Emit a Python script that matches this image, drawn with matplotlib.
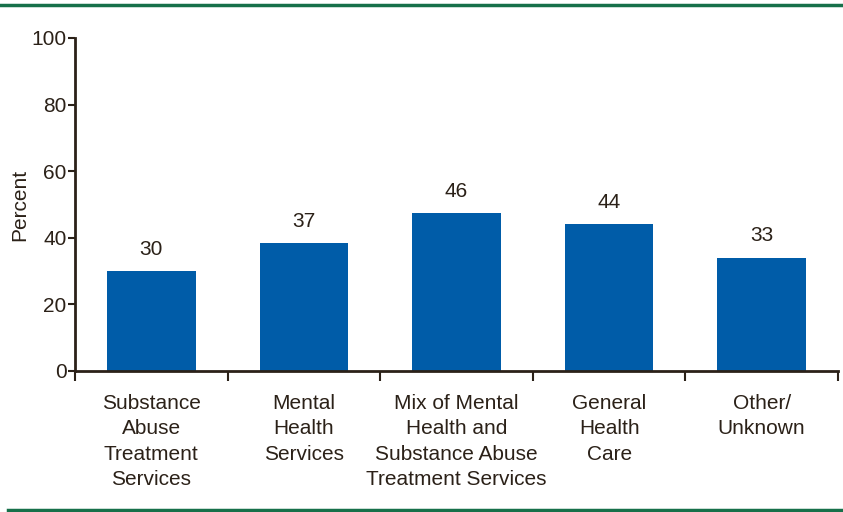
import matplotlib.pyplot as plt
import numpy as np

categories = ["Substance\nAbuse\nTreatment\nServices",
              "Mental\nHealth\nServices",
              "Mix of Mental\nHealth and\nSubstance Abuse\nTreatment Services",
              "General\nHealth\nCare",
              "Other/\nUnknown"]
# bar heights as drawn, and the printed labels
heights = [30, 38.4, 47.4, 44, 34]
labels = ["30", "37", "46", "44", "33"]

plt.rcParams['font.family'] = ['Liberation Sans', 'DejaVu Sans']
dark = '#2b2118'
blue = '#005ca8'
green = '#17704a'

fig = plt.figure(figsize=(8.43, 5.12), dpi=100)
ax = fig.add_axes([0.089, 0.2754, 0.905, 0.6504])

x = np.arange(len(categories))
ax.bar(x, heights, width=0.58, color=blue, zorder=2)
for xi, h, lab in zip(x, heights, labels):
    ax.annotate(lab, (xi, h), xytext=(0, 9), textcoords='offset points',
                ha='center', va='bottom', fontsize=15, color=dark)

ax.set_xlim(-0.5, len(categories) - 0.5)
ax.set_ylim(0, 100)
ax.set_yticks(range(0, 101, 20))
ax.set_xticks(np.arange(-0.5, len(categories), 1))
ax.set_xticklabels([])
ax.tick_params(axis='y', labelsize=15, colors=dark, length=5, width=1.5, pad=1)
ax.tick_params(axis='x', direction='out', length=7, width=1.5, colors=dark)

for xi, cat in zip(x, categories):
    ax.text(xi, -7, cat, ha='center', va='top', fontsize=15, color=dark,
            linespacing=1.41, transform=ax.transData)

ax.spines['top'].set_visible(False)
ax.spines['right'].set_visible(False)
ax.spines['left'].set_color(dark)
ax.spines['bottom'].set_color(dark)
ax.spines['left'].set_linewidth(2)
ax.spines['bottom'].set_linewidth(2)

ax.set_ylabel("Percent", fontsize=15, color=dark, labelpad=2)

# green rules top and bottom
fig.add_artist(plt.Line2D([0, 1], [1 - 4.5/512, 1 - 4.5/512], color=green, lw=2.5,
                          transform=fig.transFigure))
fig.add_artist(plt.Line2D([8/843, 1], [1 - 509.5/512, 1 - 509.5/512], color=green, lw=2.5,
                          transform=fig.transFigure))

fig.savefig("out.png", dpi=100)
